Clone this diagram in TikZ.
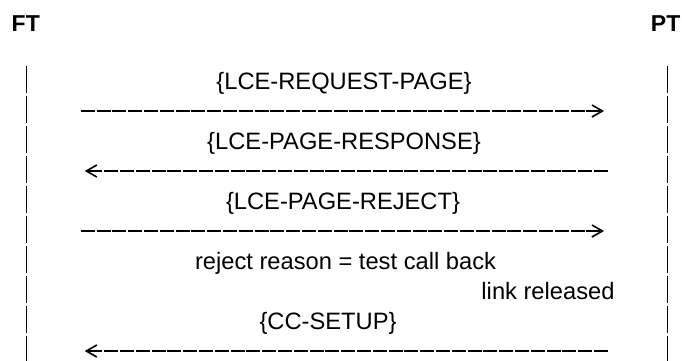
\documentclass[tikz,border=0pt]{standalone}
\usepackage{fontspec}
\setmainfont{Liberation Sans}
\usetikzlibrary{arrows.meta}
\begin{document}
\begin{tikzpicture}[x=1pt,y=-1pt,
  lbl/.style={font=\fontsize{23.7pt}{28pt}\selectfont, inner sep=0pt, anchor=base},
  actor/.style={font=\fontsize{23pt}{28pt}\selectfont\bfseries, inner sep=0pt},
  lifeline/.style={line width=1.3pt},
  msg/.style={line width=2pt, dash pattern=on 14pt off 1.8pt,
    -{Straight Barb[length=10.5pt,width=12pt,line width=1.6pt,sep=2pt]}},
]
\useasboundingbox (0,0) rectangle (682,360);

% actors
\node[actor, anchor=base west] (FT) at (11.5,31) {FT};
\node[actor, anchor=base east] (PT) at (680.5,31) {PT};

% lifeline positions
\coordinate (FTl) at (26.7,0);
\coordinate (PTl) at (667.3,0);
\foreach \k in {0,...,9} {
  \pgfmathsetmacro\ya{66+30*\k}
  \pgfmathsetmacro\yb{93+30*\k}
  \draw[lifeline] (FTl |- 0,\ya) -- (FTl |- 0,\yb);
  \draw[lifeline] (PTl |- 0,\ya) -- (PTl |- 0,\yb);
}

% labels
\node[lbl] (req)    at (344,89.5)  {\{LCE-REQUEST-PAGE\}};
\node[lbl] (resp)   at (344,149.5) {\{LCE-PAGE-RESPONSE\}};
\node[lbl] (rej)    at (343,209.5) {\{LCE-PAGE-REJECT\}};
\node[lbl] (reason) at (345.5,269.5) {reject reason = test call back};
\node[lbl] (link)   at (548,299.5) {link released};
\node[lbl] (ccs)    at (328,329.5) {\{CC-SETUP\}};

% message endpoints
\coordinate (m1s) at (80.7,111);
\coordinate (m1e) at (606,111);
\coordinate (m2s) at (608,171);
\coordinate (m2e) at (82.7,171);
\coordinate (m3s) at (80.7,231);
\coordinate (m3e) at (606,231);
\coordinate (m4s) at (608,351);
\coordinate (m4e) at (82.7,351);

\draw[msg] (m1s) -- (m1e);
\draw[msg] (m2s) -- (m2e);
\draw[msg] (m3s) -- (m3e);
\draw[msg] (m4s) -- (m4e);
\end{tikzpicture}
\end{document}
